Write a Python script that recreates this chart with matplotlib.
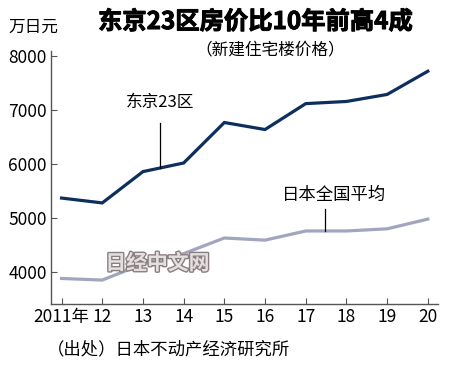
import matplotlib
matplotlib.use("Agg")
import matplotlib.pyplot as plt
import matplotlib.patheffects as pe

plt.rcParams['font.family'] = ['Noto Sans CJK SC', 'DejaVu Sans']

# data (10k yen per unit)
years = [2011, 2012, 2013, 2014, 2015, 2016, 2017, 2018, 2019, 2020]
year_labels = ["2011年", "12", "13", "14", "15", "16", "17", "18", "19", "20"]
tokyo = [5370, 5280, 5860, 6020, 6770, 6640, 7120, 7160, 7290, 7720]
national = [3880, 3850, 4150, 4340, 4630, 4590, 4760, 4760, 4800, 4980]
y_ticks = [4000, 5000, 6000, 7000, 8000]

navy = "#0c2f5e"
lavender = "#a2a5bf"
axis_gray = "#555555"

fig = plt.figure(figsize=(4.5, 3.67), dpi=100)
ax = fig.add_axes([0.1133, 0.1717, 0.86, 0.689])

ax.plot(years, tokyo, color=navy, lw=2.3, solid_joinstyle="miter")
ax.plot(years, national, color=lavender, lw=2.3, solid_joinstyle="miter")

ax.set_xlim(2010.74, 2020.25)
ax.set_ylim(3407, 8093)
ax.set_xticks(years)
ax.set_xticklabels(year_labels)
ax.set_yticks(y_ticks)

for s in ["top", "right"]:
    ax.spines[s].set_visible(False)
for s in ["left", "bottom"]:
    ax.spines[s].set_color(axis_gray)
    ax.spines[s].set_linewidth(1.0)
ax.tick_params(direction="in", length=4, width=0.8, color=axis_gray,
               labelsize=12.5, pad=3)
ax.tick_params(axis="x", pad=3)

# series labels with leader lines
ax.text(2013.41, 7135, "东京23区", ha="center", va="center", fontsize=12)
ax.plot([2013.41, 2013.41], [6765, 5925], color="black", lw=0.9)
ax.text(2017.7, 5426, "日本全国平均", ha="center", va="center", fontsize=12.5)
ax.plot([2017.48, 2017.48], [5167, 4765], color="black", lw=0.9)

# titles and notes
fig.text(0.567, 0.94, "东京23区房价比10年前高4成", ha="center", va="center",
         fontsize=17.5, fontweight="bold",
         path_effects=[pe.withStroke(linewidth=0.7, foreground="black")])
fig.text(0.6, 0.864, "（新建住宅楼价格）", ha="center", va="center", fontsize=12)
fig.text(0.018, 0.925, "万日元", ha="left", va="center", fontsize=12)
fig.text(0.105, 0.047, "（出处）日本不动产经济研究所", ha="left", va="center",
         fontsize=12.5)

# watermark
fig.text(0.35, 0.283, "日经中文网", ha="center", va="center", fontsize=15,
         fontweight="bold", color="#e4e0e0",
         path_effects=[pe.withStroke(linewidth=2, foreground="#8a7f80")])

fig.savefig("out.png", dpi=100)
